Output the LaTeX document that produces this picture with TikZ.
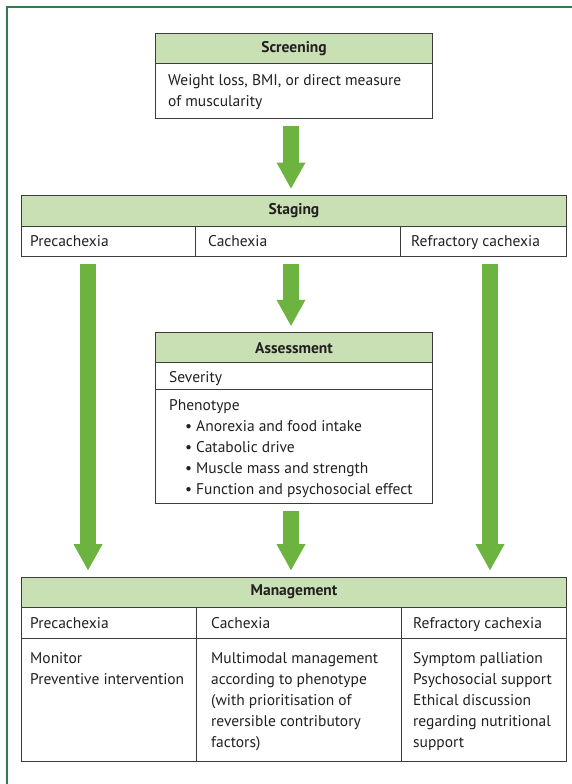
\documentclass[tikz,border=0pt]{standalone}
\usepackage{fontspec}
\setmainfont{PT Sans}
\usepackage{xcolor}
\definecolor{Col1}{RGB}{201,224,181}
\definecolor{Col2}{RGB}{109,179,63}
\definecolor{Col3}{RGB}{46,125,79}
\definecolor{Col4}{RGB}{60,60,60}
\definecolor{Col5}{RGB}{35,31,32}
\usepackage{tikz}
\usetikzlibrary{arrows.meta}
\tikzstyle{Cell}=[draw=Col4,line width=1pt,anchor=north west,inner sep=0pt]
\tikzstyle{Head}=[Cell,fill=Col1,font=\fontsize{15.5}{21}\selectfont\bfseries]
\tikzstyle{Txt}=[anchor=north west,inner sep=0pt,align=left]
\tikzstyle{Arrow}=[draw=Col2,line width=16.6pt,
-{Triangle[width=29pt,length=26pt,line width=0pt 0 0]},shorten <=7pt,shorten >=6.5pt]
\tikzstyle{Frame}=[draw=Col3,line width=1.5pt]
\newcommand{\Item}[1]{\hspace*{16pt}\textbullet\hspace{4pt}#1}

\begin{document}
\begin{tikzpicture}[x=1pt,y=-1pt,text=Col5,font=\fontsize{15.5}{21}\selectfont]
        \useasboundingbox(0,0)rectangle(572,784);
        \draw[Frame](572,7)--(7,7)--(7,784);
        \coordinate(c1)at(88,0);
        \coordinate(c2)at(291,0);
        \coordinate(c3)at(490,0);
        % screening
        \node[Head,minimum width=277pt,minimum height=30pt](scr)at(155,33.3){Screening};
        \node[Cell,minimum width=277pt,minimum height=54.4pt](scrB)at(155,63.3){};
        \node[Txt](scrT)at(168,74){Weight loss, BMI, or direct measure\\of muscularity};
        % staging
        \node[Head,minimum width=545pt,minimum height=30.7pt](stg)at(21,195){Staging};
        \node[Cell,minimum width=174pt,minimum height=30pt](stg1)at(21,225.7){};
        \node[Cell,minimum width=205pt,minimum height=30pt](stg2)at(195,225.7){};
        \node[Cell,minimum width=166pt,minimum height=30pt](stg3)at(400,225.7){};
        \node[Txt](stg1T)at(30,235.5){Precachexia};
        \node[Txt](stg2T)at(208,235.5){Cachexia};
        \node[Txt](stg3T)at(411,235.5){Refractory cachexia};
        % assessment
        \node[Head,minimum width=277pt,minimum height=30pt](ass)at(155,332.3){Assessment};
        \node[Cell,minimum width=277pt,minimum height=27pt](sev)at(155,362.3){};
        \node[Cell,minimum width=277pt,minimum height=113.4pt](phe)at(155,389.3){};
        \node[Txt](sevT)at(169,371.5){Severity};
        \node[Txt](pheT)at(169,399){Phenotype\\\Item{Anorexia and food intake}\\
            \Item{Catabolic drive}\\\Item{Muscle mass and strength}\\
            \Item{Function and psychosocial effect}};
        % management
        \node[Head,minimum width=545pt,minimum height=30pt](mgt)at(21,576.7){Management};
        \node[Cell,minimum width=175pt,minimum height=31pt](mgt1)at(21,606.7){};
        \node[Cell,minimum width=205pt,minimum height=31pt](mgt2)at(196,606.7){};
        \node[Cell,minimum width=165pt,minimum height=31pt](mgt3)at(401,606.7){};
        \node[Cell,minimum width=175pt,minimum height=123pt](mgt4)at(21,637.7){};
        \node[Cell,minimum width=205pt,minimum height=123pt](mgt5)at(196,637.7){};
        \node[Cell,minimum width=165pt,minimum height=123pt](mgt6)at(401,637.7){};
        \node[Txt](mgt1T)at(30,617){Precachexia};
        \node[Txt](mgt2T)at(211,617){Cachexia};
        \node[Txt](mgt3T)at(413,617){Refractory cachexia};
        \node[Txt](mgt4T)at(30,652){Monitor\\Preventive intervention};
        \node[Txt](mgt5T)at(211,652){Multimodal management\\according to phenotype\\
            (with prioritisation of\\reversible contributory\\factors)};
        \node[Txt](mgt6T)at(413,652){Symptom palliation\\Psychosocial support\\
            Ethical discussion\\regarding nutritional\\support};
        % arrows
        \draw[Arrow](scrB.south-|c2)--(stg.north-|c2);
        \draw[Arrow](stg1.south-|c1)--(mgt.north-|c1);
        \draw[Arrow](stg2.south-|c2)--(ass.north-|c2);
        \draw[Arrow](stg3.south-|c3)--(mgt.north-|c3);
        \draw[Arrow](phe.south-|c2)--(mgt.north-|c2);
    \end{tikzpicture}
\end{document}
